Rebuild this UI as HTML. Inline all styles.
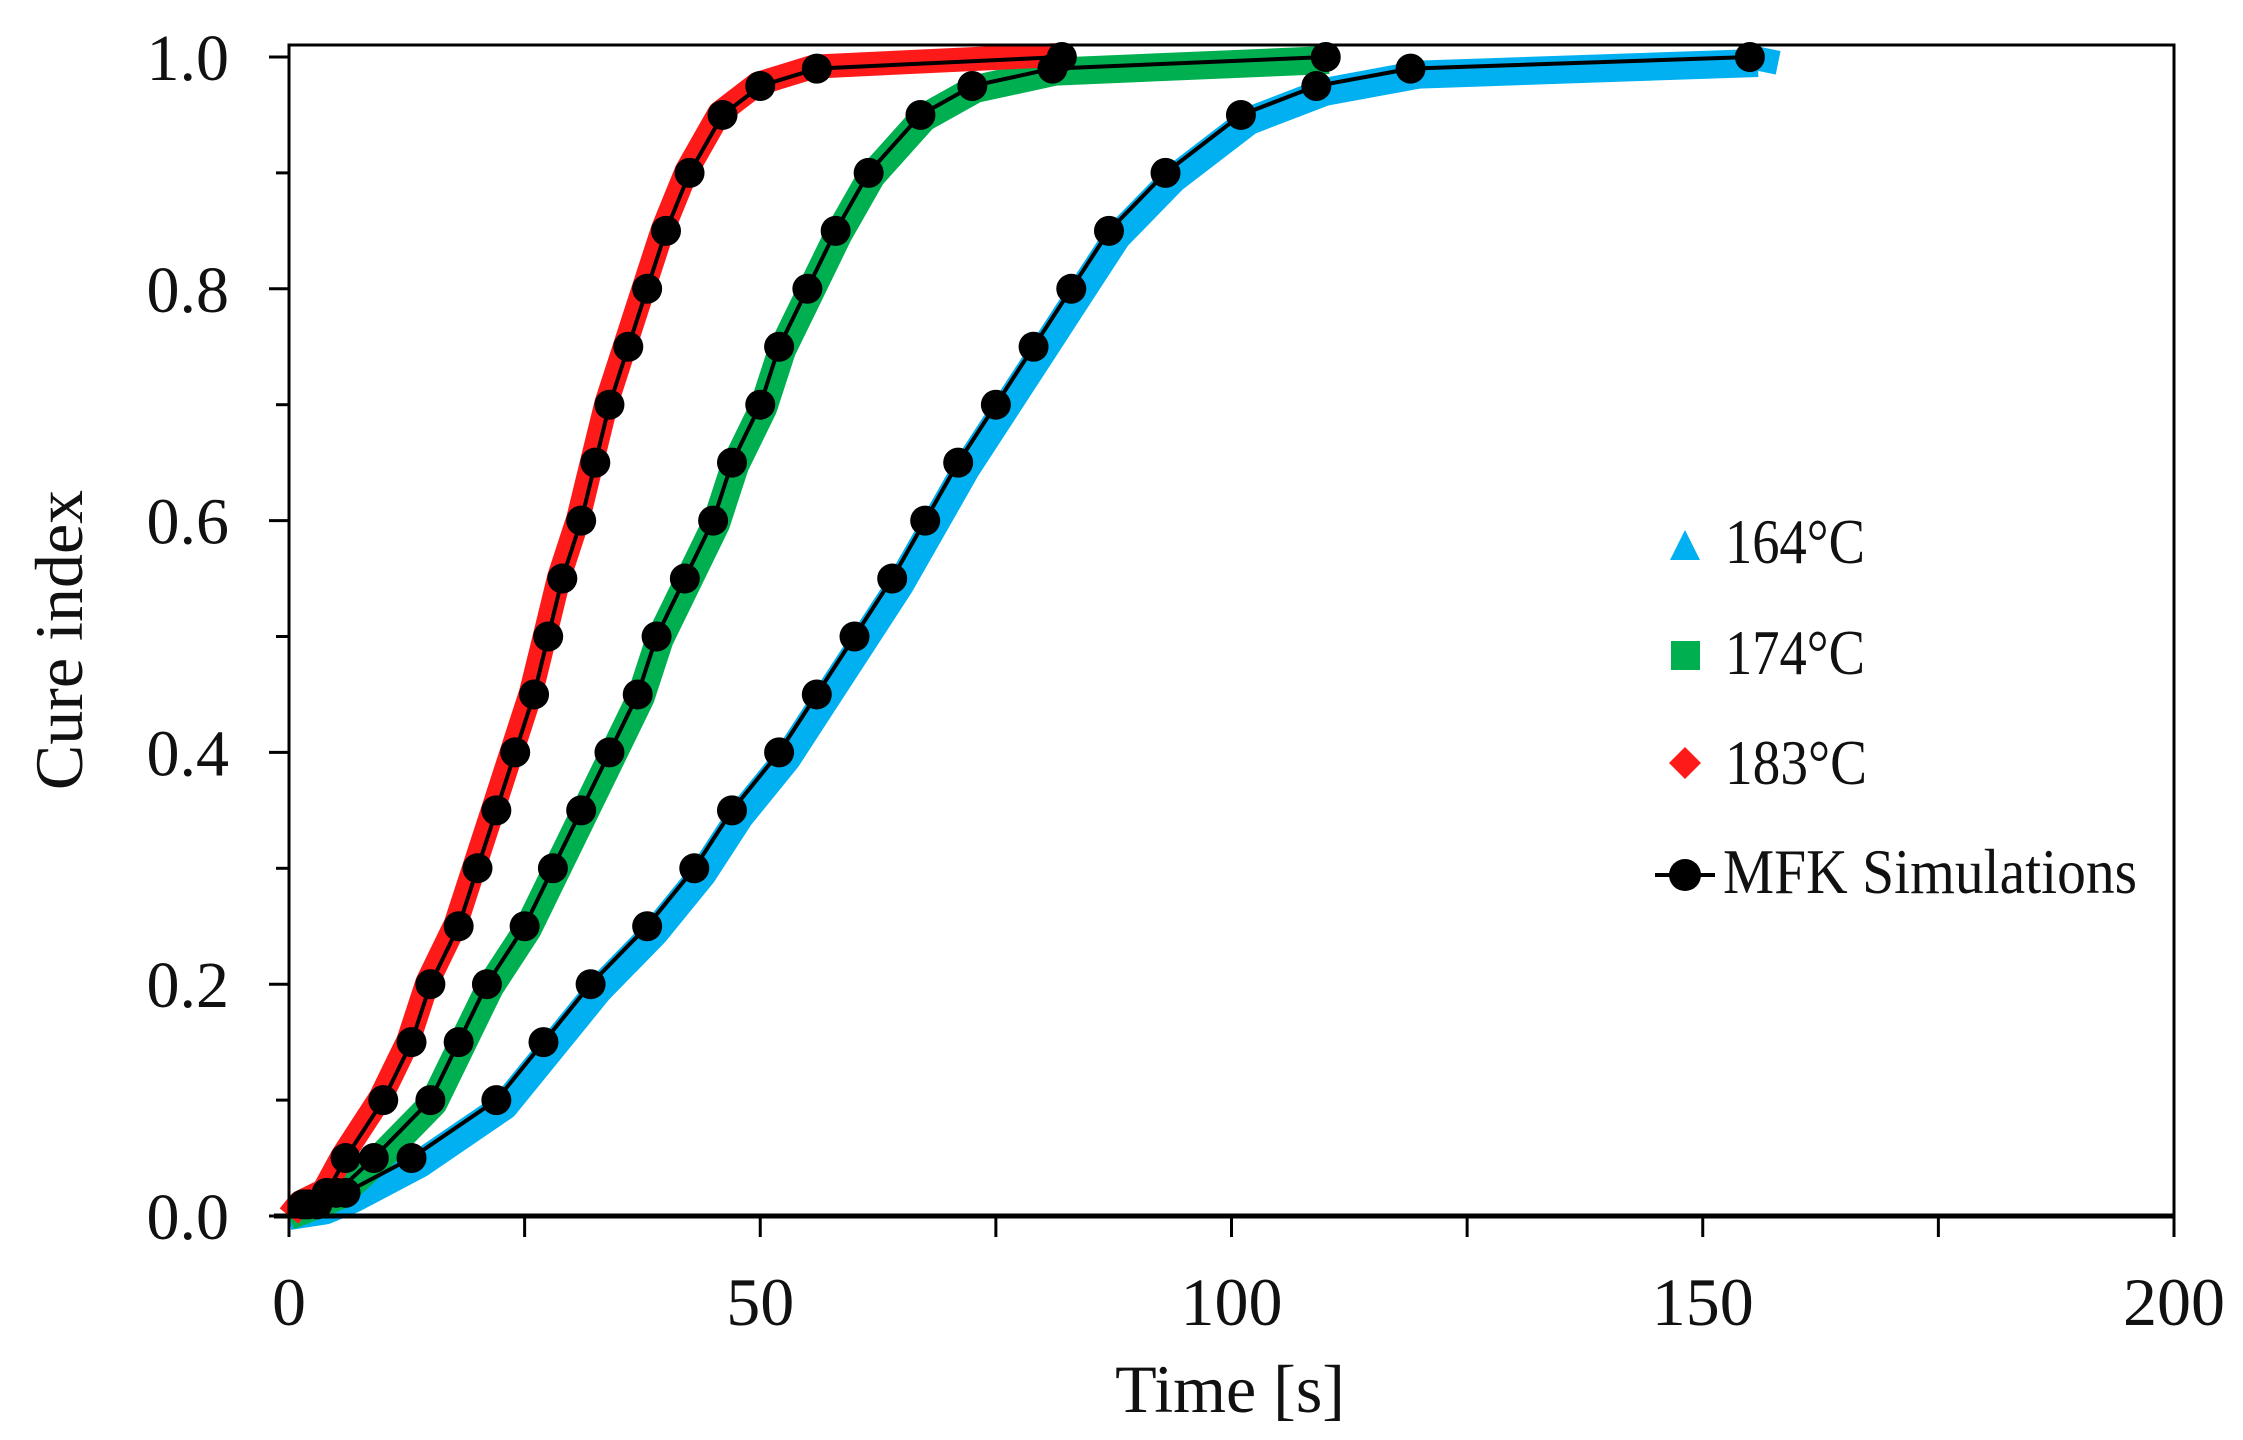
<!DOCTYPE html><html><head><meta charset="utf-8"><style>html,body{margin:0;padding:0;background:#fff}svg{display:block}text{font-family:"Liberation Serif",serif;fill:#111}</style></head><body>
<svg id="s" width="2243" height="1440" xmlns="http://www.w3.org/2000/svg"></svg>
<script>
const s=document.getElementById('s');let h='';
const X=t=>289+t*(2174-289)/200, Y=v=>1216-v*(1216-57);
const L=289,R=2174,T=45,B=1216;
const cv=[0.01,0.02,0.05,0.1,0.15,0.2,0.25,0.3,0.35,0.4,0.45,0.5,0.55,0.6,0.65,0.7,0.75,0.8,0.85,0.9,0.95,0.975,0.99,1.0];
const red=[1.5,4,6,10,13,15,18,20,22,24,26,27.5,29,31,32.5,34,36,38,40,42.5,46,50,56,82];
const grn=[2,5,9,15,18,21,25,28,31,34,37,39,42,45,47,50,52,55,58,61.5,67,72.5,81,110];
const blu=[3,6,13,22,27,32,38,43,47,52,56,60,64,67.5,71,75,79,83,87,93,101,109,119,155];
function pts(arr,dx,dy){let p=[[X(0),Y(0)]];arr.forEach((t,i)=>p.push([X(t)+dx,Y(cv[i])+dy]));return p.map(q=>q[0].toFixed(1)+','+q[1].toFixed(1)).join(' ');}
h+=`<polyline points="${pts(blu,8,6)}" fill="none" stroke="#00b0f0" stroke-width="28" stroke-linejoin="round"/>`;
h+=`<polyline points="${X(155)},${Y(1)} ${X(158)},${Y(0.995)}" stroke="#00b0f0" stroke-width="24"/>`;
h+=`<polyline points="${pts(grn,3,3)}" fill="none" stroke="#00b050" stroke-width="28" stroke-linejoin="round"/>`;
h+=`<polyline points="${pts(red,-3,-2)}" fill="none" stroke="#ff1a1a" stroke-width="24" stroke-linejoin="round"/>`;
[red,grn,blu].forEach(a=>{h+=`<polyline points="${pts(a,0,0)}" fill="none" stroke="#000" stroke-width="4"/>`;
a.forEach((t,i)=>{h+=`<circle cx="${X(t)}" cy="${Y(cv[i])}" r="15" fill="#000"/>`;});});
h+=`<rect x="${L}" y="${T}" width="${R-L}" height="${B-T}" fill="none" stroke="#000" stroke-width="3"/>`;
h+=`<line x1="${L-15}" y1="${B}" x2="${R}" y2="${B}" stroke="#000" stroke-width="5"/>`;
for(let i=0;i<=10;i++){const y=Y(i/10);h+=`<line x1="${L-(i%2?13:20)}" y1="${y}" x2="${L}" y2="${y}" stroke="#000" stroke-width="3"/>`;
if(i%2==0)h+=`<text x="229" y="${y+23}" font-size="66" text-anchor="end">${(i/10).toFixed(1)}</text>`;}
for(let i=0;i<=8;i++){const x=X(i*25);h+=`<line x1="${x}" y1="${B}" x2="${x}" y2="${B+21}" stroke="#000" stroke-width="3"/>`;
if(i%2==0)h+=`<text x="${x}" y="1325" font-size="68" text-anchor="middle">${i*25}</text>`;}
h+=`<text x="1230" y="1412" font-size="68" text-anchor="middle">Time [s]</text>`;
h+=`<text transform="translate(82,640) rotate(-90)" font-size="68" text-anchor="middle">Cure index</text>`;
h+=`<polygon points="1685,530 1700,560 1670,560" fill="#00b0f0"/>`;
h+=`<rect x="1671" y="641" width="29" height="29" fill="#00b050"/>`;
h+=`<polygon points="1685,747 1701,763 1685,779 1669,763" fill="#ff1a1a"/>`;
h+=`<line x1="1655" y1="875" x2="1715" y2="875" stroke="#000" stroke-width="4"/><circle cx="1685" cy="875" r="16" fill="#000"/>`;
[['164°C',563,140],['174°C',674,140],['183°C',784,142],['MFK Simulations',893,414]].forEach(([t,y,w],i)=>{h+=`<text x="${i==3?1723:1725}" y="${y}" font-size="64" textLength="${w}" lengthAdjust="spacingAndGlyphs">${t}</text>`;});
s.innerHTML=h;
</script></body></html>
